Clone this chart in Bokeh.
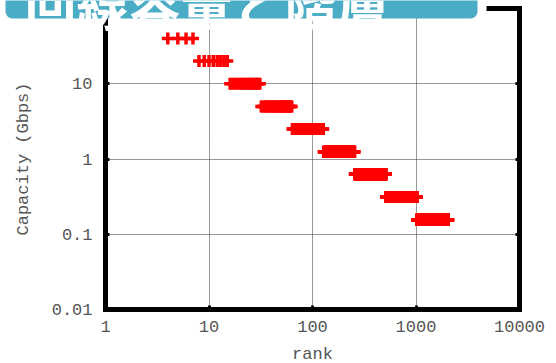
from bokeh.plotting import figure
from bokeh.models import FixedTicker, BoxAnnotation, Label, LogAxis, CustomJSTickFormatter
from bokeh.embed import file_html
from bokeh.resources import INLINE

# ---- data ----
title_text = "回線容量と階層"
capacity_gbps = [40, 20, 10, 5, 2.5, 1.25, 0.625, 0.3125, 0.15625]
first_rank = [4, 8, 16, 32, 64, 128, 256, 512, 1024]
last_rank = [7, 15, 31, 63, 127, 255, 511, 1023, 2047]
x_ticks = [1, 10, 100, 1000, 10000]
y_ticks = [0.01, 0.1, 1, 10]
x_tick_labels = ["1", "10", "100", "1000", "10000"]
y_tick_labels = ["0.01", "0.1", "1", "10"]
x_bounds = (1, 10000)
y_bounds = (0.01, 100)
x_label = "rank"
y_label = "Capacity (Gbps)"

ranks, caps = [], []
for c, a, b in zip(capacity_gbps, first_rank, last_rank):
    for r in range(a, b + 1):
        ranks.append(r)
        caps.append(c)

FONT = "Liberation Mono"
TXT = "#555555"

# ---- layout: the frame covers the whole canvas; axes sit at fixed places ----
W, H = 556, 363
X0, X1 = 105, 519     # canvas x of rank 1 and rank 10000
Y0, Y1 = 8, 309       # canvas y of 100 and 0.01
dx = (X1 - X0) / 4.0
dy = (Y1 - Y0) / 4.0
x_start = 10 ** (0 - X0 / dx)
x_end = 10 ** (4 + (W - X1) / dx)
y_end = 10 ** (2 + Y0 / dy)
y_start = 10 ** (-2 - (H - Y1) / dy)

p = figure(width=W, height=H, x_axis_type="log", y_axis_type="log",
           x_range=(x_start, x_end), y_range=(y_start, y_end),
           output_backend="svg", toolbar_location=None, min_border=0)
p.background_fill_color = "white"
p.border_fill_color = "white"
p.outline_line_color = None

minor_y = [m * 10 ** e for e in range(-2, 2) for m in range(2, 10)]
p.xaxis.ticker = FixedTicker(ticks=x_ticks)
p.yaxis.ticker = FixedTicker(ticks=y_ticks, minor_ticks=minor_y)
p.xaxis.major_label_overrides = {t: s for t, s in zip(x_ticks, x_tick_labels)}
p.yaxis.major_label_overrides = {t: s for t, s in zip(y_ticks, y_tick_labels)}
p.xaxis.fixed_location = y_bounds[0]
p.yaxis.fixed_location = x_bounds[0]
p.xaxis.bounds = x_bounds
p.yaxis.bounds = y_bounds

for ax in (p.xaxis, p.yaxis):
    ax.axis_line_color = "black"
    ax.axis_line_width = 5
    ax.axis_line_cap = "square"
    ax.major_tick_in = 4
    ax.major_tick_out = 0
    ax.major_tick_line_width = 3
    ax.minor_tick_in = 0
    ax.minor_tick_out = 0
    ax.major_label_text_font = FONT
    ax.major_label_text_font_size = "17px"
    ax.major_label_text_color = TXT
    ax.axis_label_text_font = FONT
    ax.axis_label_text_font_size = "17px"
    ax.axis_label_text_font_style = "normal"
    ax.axis_label_text_color = TXT

p.yaxis.minor_tick_in = 2
p.yaxis.minor_tick_line_width = 2
p.xaxis.axis_label = x_label
p.yaxis.axis_label = y_label
p.xaxis.major_label_standoff = 11
p.xaxis.axis_label_standoff = 10
p.yaxis.major_label_standoff = 13
p.yaxis.axis_label_standoff = 16

blank = CustomJSTickFormatter(code="return ''")
right_ax = LogAxis(fixed_location=x_bounds[1], bounds=y_bounds,
                   ticker=FixedTicker(ticks=y_ticks), formatter=blank,
                   axis_line_width=5, axis_line_cap="square",
                   major_tick_in=4, major_tick_out=0, major_tick_line_width=3,
                   minor_tick_in=0, minor_tick_out=0)
top_ax = LogAxis(fixed_location=y_bounds[1], bounds=x_bounds,
                 ticker=FixedTicker(ticks=[]), formatter=blank,
                 axis_line_width=5, axis_line_cap="square",
                 major_tick_in=0, major_tick_out=0,
                 minor_tick_in=0, minor_tick_out=0)
p.add_layout(right_ax, "right")
p.add_layout(top_ax, "above")

p.xgrid.ticker = FixedTicker(ticks=x_ticks[1:-1])
p.ygrid.ticker = FixedTicker(ticks=y_ticks[1:])
p.xgrid.cross_bounds = y_bounds
p.ygrid.cross_bounds = x_bounds
for g in (p.xgrid, p.ygrid):
    g.grid_line_color = "#333333"
    g.grid_line_width = 1
    g.grid_line_dash = "1 1"
    g.minor_grid_line_color = None

p.scatter(ranks, caps, marker="cross", size=12, line_width=3.5,
          line_color="#ff0000")

# banner
p.add_layout(BoxAnnotation(left=470, right=486, top=0, bottom=13,
                           left_units="canvas", right_units="canvas",
                           top_units="canvas", bottom_units="canvas",
                           fill_color="white", fill_alpha=1, line_color=None))
p.add_layout(BoxAnnotation(left=5, right=477, top=-12, bottom=18,
                           left_units="canvas", right_units="canvas",
                           top_units="canvas", bottom_units="canvas",
                           fill_color="#4bacc6", fill_alpha=1, line_color=None,
                           border_radius=7))
p.add_layout(Label(x=24, y=2.5, x_units="canvas", y_units="canvas",
                   text=title_text, text_font="Noto Sans CJK JP",
                   text_font_style="bold", text_font_size="52px",
                   text_color="white", text_baseline="alphabetic"))

open("out.html", "w").write(file_html(p, INLINE))
